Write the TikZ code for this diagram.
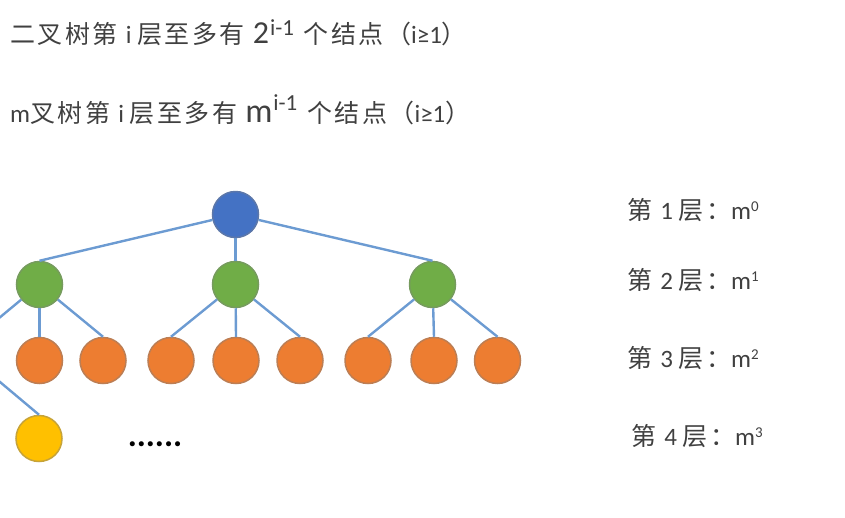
\documentclass[tikz,border=0pt]{standalone}
\usepackage{fontspec}
\setmainfont{Carlito}
\newfontfamily\cjk[LetterSpace=10]{Noto Sans CJK SC}
\definecolor{lineblue}{HTML}{6C9BD2}
\definecolor{rootblue}{HTML}{4472C4}
\definecolor{leafgreen}{HTML}{70AD47}
\definecolor{leaforange}{HTML}{ED7D31}
\definecolor{leafyellow}{HTML}{FFC000}
\definecolor{txtgray}{HTML}{404040}
\newcommand\supr[2]{\raisebox{#1}{\fontsize{23}{23}\selectfont #2}}
\begin{document}
\begin{tikzpicture}[x=1pt,y=-1pt,
  edge/.style={draw=lineblue, line width=2.4pt},
  nd/.style={circle, minimum size=46pt, inner sep=0pt, line width=1.5pt},
  rootnd/.style={nd, fill=rootblue, draw=rootblue!60!gray},
  greennd/.style={nd, fill=leafgreen, draw=leafgreen!60!gray},
  orangend/.style={nd, fill=leaforange, draw=leaforange!55!gray},
  yellownd/.style={nd, fill=leafyellow, draw=leafyellow!55!gray},
  headline/.style={anchor=base west, inner sep=0pt, text=txtgray, font=\fontsize{25}{25}\selectfont},
  levellabel/.style={anchor=base west, inner sep=0pt, text=txtgray, font=\fontsize{25}{25}\selectfont}]
\useasboundingbox (0,0) rectangle (845,517);
\clip (0,0) rectangle (845,517);

% headings
\node[headline] (h1) at (10,43) {{\cjk 二叉树第 }i {\cjk 层至多有 }{\fontsize{32}{32}\selectfont 2}\hspace{1pt}\supr{8pt}{i-1}\hspace{4pt} {\cjk 个结点（}i≥1{\cjk ）}};
\node[headline] (h2) at (10,122) {m{\cjk 叉树第 }i {\cjk 层至多有 }{\fontsize{34}{34}\selectfont m}\hspace{1pt}\supr{12pt}{i-1}\hspace{4pt} {\cjk 个结点（}i≥1{\cjk ）}};

% tree nodes
\node[rootnd] (r) at (235.5,214.5) {};
\node[greennd] (g1) at (39.5,284.5) {};
\node[greennd] (g2) at (235.5,284.5) {};
\node[greennd] (g3) at (432.5,284.5) {};
\node[orangend] (o1) at (39.5,360.5) {};
\node[orangend] (o2) at (103,360.5) {};
\node[orangend] (o3) at (171,360.5) {};
\node[orangend] (o4) at (236,360.5) {};
\node[orangend] (o5) at (300,360.5) {};
\node[orangend] (o6) at (368,360.5) {};
\node[orangend] (o7) at (434,360.5) {};
\node[orangend] (o8) at (497.5,360.5) {};
\node[yellownd] (y1) at (39,438.5) {};
\coordinate (oL) at (-25,338);
\coordinate (oP) at (-25,361);

% edges
\draw[edge] (r) -- (g1.north);
\draw[edge] (r) -- (g2.north);
\draw[edge] (r) -- (g3.north);
\draw[edge] (g1) -- (oL);
\draw[edge] (g1) -- (o1.north);
\draw[edge] (g1) -- (o2.north);
\draw[edge] (g2) -- (o3.north);
\draw[edge] (g2) -- (o4.north);
\draw[edge] (g2) -- (o5.north);
\draw[edge] (g3) -- (o6.north);
\draw[edge] (g3) -- (o7.north);
\draw[edge] (g3) -- (o8.north);
\draw[edge, shorten <=23pt] (oP) -- (y1.north);

% dots
\node[anchor=base, inner sep=0pt, font=\fontsize{34}{34}\bfseries] (dots) at (155,446) {......};

% level labels
\node[levellabel] (l1) at (627,219) {{\cjk 第 }1 {\cjk 层：}m\raisebox{8pt}{\fontsize{15}{15}\selectfont 0}};
\node[levellabel] (l2) at (627,289) {{\cjk 第 }2 {\cjk 层：}m\raisebox{8pt}{\fontsize{15}{15}\selectfont 1}};
\node[levellabel] (l3) at (627,367) {{\cjk 第 }3 {\cjk 层：}m\raisebox{8pt}{\fontsize{15}{15}\selectfont 2}};
\node[levellabel] (l4) at (631,445) {{\cjk 第 }4 {\cjk 层：}m\raisebox{8pt}{\fontsize{15}{15}\selectfont 3}};
\end{tikzpicture}
\end{document}
